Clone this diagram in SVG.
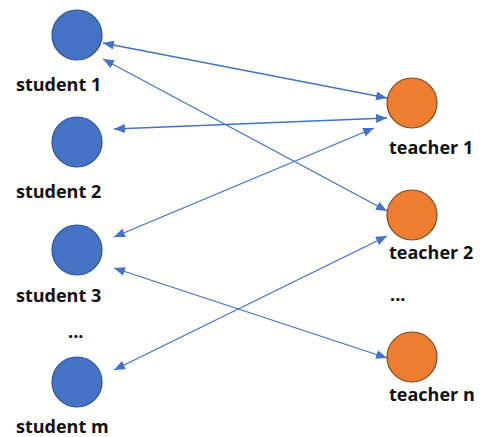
<svg xmlns="http://www.w3.org/2000/svg" width="486" height="437" viewBox="0 0 486 437">
<style>
.s{fill:#4472C4;stroke:#2F528F;stroke-width:1.2}
.t{fill:#ED7D31;stroke:#7A4A2A;stroke-width:1.2}
.lbl{font-family:"Open Sans","Liberation Sans",sans-serif;font-weight:bold;font-size:18px;fill:#111}
.c{stroke:#4472C4;stroke-width:1.3;fill:none;marker-start:url(#ah);marker-end:url(#ah)}
</style>
<defs>
<marker id="ah" viewBox="0 0 11 9" refX="11" refY="4.5" markerWidth="11" markerHeight="9" markerUnits="userSpaceOnUse" orient="auto-start-reverse">
<path d="M0,0 L11,4.5 L0,9 Z" fill="#4472C4"/>
</marker>
</defs>
<rect width="486" height="437" fill="#fff"/>
<g id="connectors">
<line class="c" x1="103" y1="43" x2="387" y2="98"/>
<line class="c" x1="103" y1="59" x2="387" y2="211"/>
<line class="c" x1="114" y1="129" x2="387" y2="118"/>
<line class="c" x1="114" y1="237" x2="374" y2="128"/>
<line class="c" x1="114" y1="268" x2="387" y2="358"/>
<line class="c" x1="114" y1="370" x2="387" y2="236"/>
</g>
<g id="student1"><circle class="s" cx="77" cy="35" r="25"/><text class="lbl" x="16" y="91">student 1</text></g>
<g id="student2"><circle class="s" cx="77" cy="142" r="25"/><text class="lbl" x="16" y="198">student 2</text></g>
<g id="student3"><circle class="s" cx="77" cy="250" r="25"/><text class="lbl" x="16" y="302">student 3</text></g>
<g id="student-dots"><text class="lbl" x="68" y="338">...</text></g>
<g id="studentm"><circle class="s" cx="77" cy="382" r="25"/><text class="lbl" x="16" y="433">student m</text></g>
<g id="teacher1"><circle class="t" cx="412" cy="103" r="25"/><text class="lbl" x="389" y="154">teacher 1</text></g>
<g id="teacher2"><circle class="t" cx="412" cy="215" r="25"/><text class="lbl" x="389" y="259">teacher 2</text></g>
<g id="teacher-dots"><text class="lbl" x="390" y="301">...</text></g>
<g id="teachern"><circle class="t" cx="412" cy="357" r="25"/><text class="lbl" x="389" y="401">teacher n</text></g>
</svg>
